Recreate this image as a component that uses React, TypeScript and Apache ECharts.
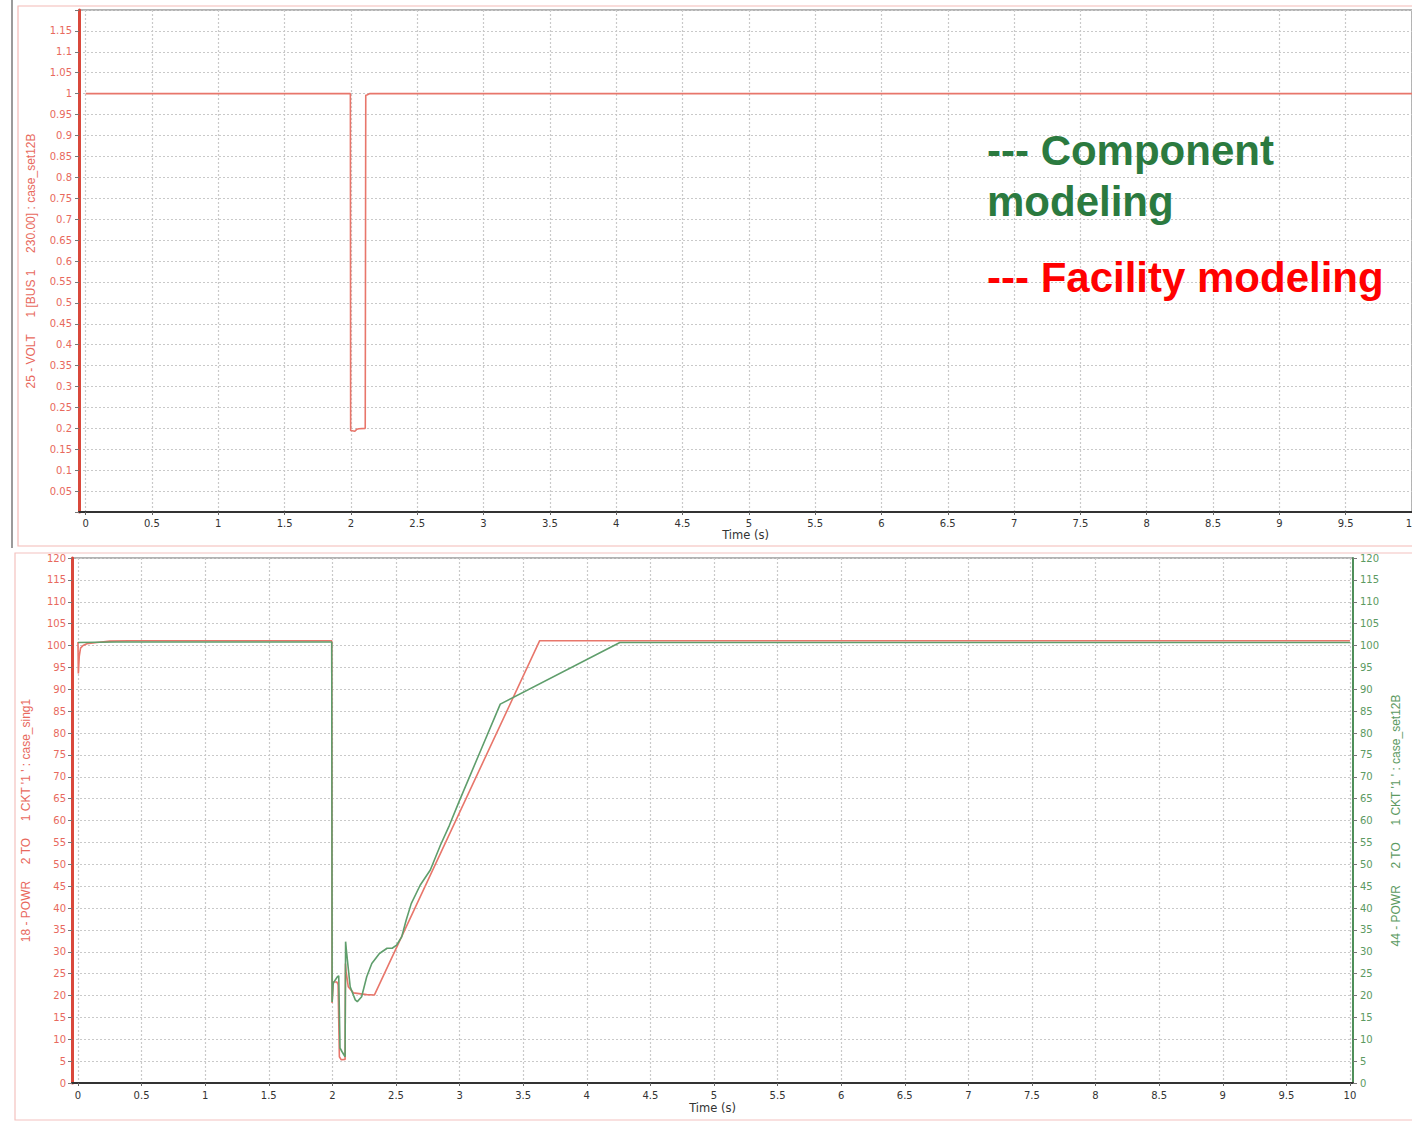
import React, { useEffect, useRef } from 'react';
import * as echarts from 'echarts';

// ---- tick values ----
const xTickValues = [0, 0.5, 1, 1.5, 2, 2.5, 3, 3.5, 4, 4.5, 5, 5.5, 6, 6.5, 7, 7.5, 8, 8.5, 9, 9.5, 10];

// ---- top chart: 25 - VOLT 1 [BUS 1 230.00] : case_set12B ----
const voltTime = [0, 1.996, 1.998, 2.03, 2.045, 2.06, 2.108, 2.112, 2.12, 2.14, 10];
const voltValue = [1.0, 1.0, 0.195, 0.193, 0.198, 0.199, 0.2, 0.996, 0.997, 1.0, 1.0];

// ---- bottom chart: facility modeling (red, case_sing1) ----
const facilityTime = [0, 0.003, 0.01, 0.02, 0.04, 0.07, 0.15, 0.25, 0.4, 1.995, 1.998, 2.007, 2.035, 2.045, 2.055, 2.07, 2.1, 2.103, 2.108, 2.125, 2.165, 2.27, 2.33, 3.63, 10];
const facilityPower = [100.8, 93.6, 97.5, 99.4, 100.0, 100.4, 100.7, 101.0, 101.1, 101.1, 18.3, 23.1, 23.1, 22.5, 6.0, 5.3, 5.4, 27.3, 25.5, 22.0, 20.6, 20.2, 20.1, 101.1, 101.1];

// ---- bottom chart: component modeling (green, case_set12B) ----
const componentTime = [0, 0.3, 0.5, 1.995, 1.998, 2.005, 2.01, 2.04, 2.05, 2.06, 2.075, 2.1, 2.104, 2.11, 2.14, 2.18, 2.196, 2.23, 2.27, 2.31, 2.37, 2.43, 2.47, 2.505, 2.545, 2.58, 2.62, 2.69, 2.77, 2.85, 2.92, 3.0, 3.16, 3.32, 4.26, 10];
const componentPower = [100.7, 100.8, 100.8, 100.8, 18.5, 22.4, 23.0, 24.3, 24.5, 8.0, 7.2, 6.0, 32.3, 30.4, 22.0, 19.0, 18.6, 19.7, 24.3, 27.3, 29.6, 30.8, 30.8, 31.5, 33.4, 37.2, 41.0, 45.2, 48.7, 54.4, 58.9, 64.6, 75.6, 86.6, 100.7, 100.7];

const topAxisName = '25 - VOLT     1 [BUS 1     230.00] : case_set12B';
const leftAxisName = '18 - POWR     2 TO     1 CKT \'1 \' : case_sing1';
const rightAxisName = '44 - POWR     2 TO     1 CKT \'1 \' : case_set12B';
const xAxisName = 'Time (s)';

const RED = '#e8766b';
const GREEN = '#5f9e6c';
const RED_LABEL = '#e8695d';
const GREEN_LABEL = '#5c9a62';
const FONT = 'DejaVu Sans';

const zip = (xs: number[], ys: number[]) => xs.map((x, i) => [x, ys[i]]);

const splitLine = { show: true, lineStyle: { color: '#c9c9c9', type: [2, 2], width: 1.2 } };

function xAxisCfg(gridIndex: number, min: number, max: number, margin: number, nameGap: number) {
  return {
    type: 'value',
    gridIndex,
    min,
    max,
    name: xAxisName,
    nameLocation: 'middle',
    nameGap,
    nameTextStyle: { color: '#333', fontFamily: FONT, fontSize: 11.5 },
    axisLine: { show: true, onZero: false, lineStyle: { color: '#333', width: 2 } },
    axisTick: { show: true, length: 3, lineStyle: { color: '#666' }, customValues: xTickValues },
    axisLabel: { color: '#333', fontFamily: FONT, fontSize: 10, margin, customValues: xTickValues },
    splitLine,
  };
}

export default function App() {
  const ref = useRef<HTMLDivElement>(null);
  useEffect(() => {
    const chart = echarts.init(ref.current!, null, { renderer: 'svg' });
    const option: any = {
      animation: false,
      backgroundColor: '#ffffff',
      grid: [
        { left: 79, top: 10, width: 1333, height: 502, show: true, borderColor: '#666', borderWidth: 1, outerBoundsMode: 'none', containLabel: false },
        { left: 72, top: 558, width: 1281, height: 525, show: true, borderColor: '#666', borderWidth: 1, outerBoundsMode: 'none', containLabel: false },
      ],
      xAxis: [
        xAxisCfg(0, -0.05, 10, 6, 17),
        xAxisCfg(1, -0.047, 10.024, 7, 19),
      ],
      yAxis: [
        {
          type: 'value', gridIndex: 0, min: 0, max: 1.2, interval: 0.05,
          name: topAxisName, nameLocation: 'middle', nameRotate: 90, nameGap: 42,
          nameTextStyle: { color: RED_LABEL, fontFamily: 'Liberation Sans', fontSize: 12 },
          axisLine: { show: true, onZero: false, lineStyle: { color: '#d9483b', width: 3 } },
          axisTick: { show: true, length: 4, lineStyle: { color: '#777' } },
          axisLabel: {
            color: RED_LABEL, fontFamily: FONT, fontSize: 10, margin: 7,
            formatter: (v: number) => (v <= 0 || v >= 1.199 ? '' : String(Math.round(v * 100) / 100)),
          },
          splitLine,
        },
        {
          type: 'value', gridIndex: 1, position: 'left', min: 0, max: 120, interval: 5,
          name: leftAxisName, nameLocation: 'middle', nameRotate: 90, nameGap: 40,
          nameTextStyle: { color: RED_LABEL, fontFamily: 'Liberation Sans', fontSize: 12 },
          axisLine: { show: true, onZero: false, lineStyle: { color: '#d9483b', width: 3 } },
          axisTick: { show: true, length: 4, lineStyle: { color: '#777' } },
          axisLabel: { color: RED_LABEL, fontFamily: FONT, fontSize: 10, margin: 6 },
          splitLine,
        },
        {
          type: 'value', gridIndex: 1, position: 'right', min: 0, max: 120, interval: 5,
          name: rightAxisName, nameLocation: 'middle', nameRotate: 90, nameGap: 36,
          nameTextStyle: { color: GREEN_LABEL, fontFamily: 'Liberation Sans', fontSize: 12 },
          axisLine: { show: true, onZero: false, lineStyle: { color: '#4f8f5a', width: 2 } },
          axisTick: { show: true, length: 4, lineStyle: { color: '#777' } },
          axisLabel: { color: GREEN_LABEL, fontFamily: FONT, fontSize: 10, margin: 7 },
          splitLine: { show: false },
        },
      ],
      series: [
        {
          type: 'line', xAxisIndex: 0, yAxisIndex: 0, data: zip(voltTime, voltValue),
          showSymbol: false, symbol: 'none', lineStyle: { color: RED, width: 1.6 },
        },
        {
          type: 'line', xAxisIndex: 1, yAxisIndex: 1, data: zip(facilityTime, facilityPower),
          showSymbol: false, symbol: 'none', lineStyle: { color: RED, width: 1.6 },
        },
        {
          type: 'line', xAxisIndex: 1, yAxisIndex: 2, data: zip(componentTime, componentPower),
          showSymbol: false, symbol: 'none', lineStyle: { color: GREEN, width: 1.6 },
        },
      ],
      graphic: [
        { type: 'rect', z: -10, shape: { x: 18, y: 6, width: 1410, height: 540 }, style: { fill: 'none', stroke: '#f3b9b6', lineWidth: 1.2 } },
        { type: 'line', z: -10, shape: { x1: 12, y1: 0, x2: 12, y2: 548 }, style: { stroke: '#7a7a7a', lineWidth: 1.5 } },
        { type: 'rect', z: -10, shape: { x: 15, y: 553, width: 1410, height: 567 }, style: { fill: 'none', stroke: '#f3c2bf', lineWidth: 1.2 } },
        {
          type: 'text', left: 987, top: 129, z: 100,
          style: { text: '--- Component', fill: '#2b7a3f', font: 'bold 42px "Liberation Sans", Arial, sans-serif' },
        },
        {
          type: 'text', left: 987, top: 180, z: 100,
          style: { text: 'modeling', fill: '#2b7a3f', font: 'bold 42px "Liberation Sans", Arial, sans-serif' },
        },
        {
          type: 'text', left: 987, top: 256, z: 100,
          style: { text: '--- Facility modeling', fill: '#ff0000', font: 'bold 42px "Liberation Sans", Arial, sans-serif' },
        },
      ],
    };
    chart.setOption(option);
    return () => chart.dispose();
  }, []);
  return (
    <div
      ref={ref}
      style={{ position: 'absolute', left: 0, top: 0, width: 1412, height: 1122, background: '#fff' }}
    />
  );
}
